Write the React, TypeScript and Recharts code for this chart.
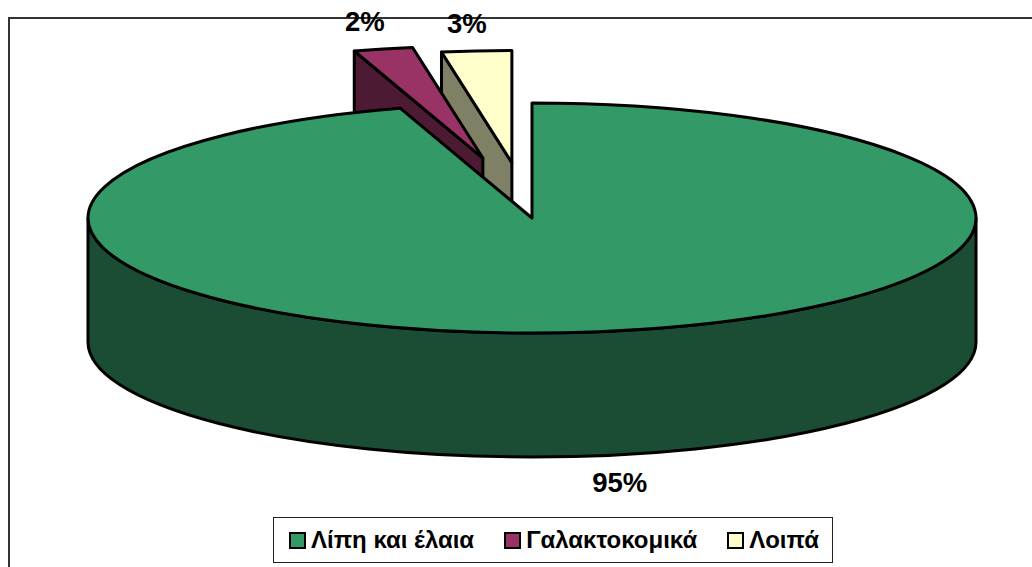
import React from 'react';
import { PieChart, Pie, Cell, Legend } from 'recharts';

const NAMES = ['Λοιπά', 'Γαλακτοκομικά', 'Λίπη και έλαια'];
const VALUES = [2.6, 2.2, 95.2];
const LEGEND_ORDER = ['Λίπη και έλαια', 'Γαλακτοκομικά', 'Λοιπά'];

const TOP_COLORS: Record<string, string> = {
  'Λίπη και έλαια': '#339966',
  'Γαλακτοκομικά': '#993366',
  'Λοιπά': '#FFFFCC',
};
const SIDE_COLORS: Record<string, string> = {
  'Λίπη και έλαια': '#1A4D33',
  'Γαλακτοκομικά': '#4D1A33',
  'Λοιπά': '#808066',
};
// small shifts so labels and pulled out slices sit where the original has them
const LABEL_NUDGE: Record<string, [number, number]> = {
  'Λίπη και έλαια': [1, 2],
  'Γαλακτοκομικά': [17, -4],
  'Λοιπά': [0, 3],
};
const SLICE_NUDGE: Record<string, [number, number]> = {
  'Λίπη και έλαια': [0, 0],
  'Γαλακτοκομικά': [2, -4],
  'Λοιπά': [-2, 2],
};

const data = NAMES.map((name, i) => ({ name, value: VALUES[i] }));

const RAD = Math.PI / 180;
const SQUASH = 115 / 444; // ellipse height / width of the tilted pie
const DEPTH = 124;
const EXPLODE = 0.5;
const EXPLODED_SCALE = 0.975;
const LINE = 3;

const isExploded = (value: number) => value < 10;

// point on the tilted rim
const rim = (cx: number, cy: number, r: number, angle: number) => ({
  x: cx + r * Math.cos(angle * RAD),
  y: cy - r * SQUASH * Math.sin(angle * RAD),
});

const Slice3D = (props: any) => {
  const { cx, cy, outerRadius, startAngle, endAngle, name, value } = props;
  const exploded = isExploded(value);
  const r = exploded ? outerRadius * EXPLODED_SCALE : outerRadius;
  const lo = Math.min(startAngle, endAngle);
  const hi = Math.max(startAngle, endAngle);
  const ry = r * SQUASH;
  const mid = rim(0, 0, outerRadius * (exploded ? EXPLODE : 0), (lo + hi) / 2);
  const ox = cx + mid.x + SLICE_NUDGE[name][0];
  const oy = cy + mid.y + SLICE_NUDGE[name][1];
  const a = rim(ox, oy, r, lo);
  const b = rim(ox, oy, r, hi);
  const large = hi - lo > 180 ? 1 : 0;
  const top = `M${ox},${oy} L${a.x},${a.y} A${r},${ry} 0 ${large} 0 ${b.x},${b.y} Z`;
  const side = SIDE_COLORS[name];

  let wall = '';
  if (exploded) {
    // the cut face on the left of a pulled out slice
    wall = `M${ox},${oy} L${b.x},${b.y} V${b.y + DEPTH} L${ox},${oy + DEPTH} Z`;
  } else {
    const l = rim(ox, oy, r, 180);
    const e = rim(ox, oy, r, 360);
    wall = `M${l.x},${l.y} A${r},${ry} 0 0 0 ${e.x},${e.y} V${e.y + DEPTH} A${r},${ry} 0 0 1 ${l.x},${l.y + DEPTH} Z`;
  }

  return (
    <g>
      <path d={wall} fill={side} stroke="#000" strokeWidth={LINE} strokeLinejoin="round" />
      <path d={top} fill={TOP_COLORS[name]} stroke="#000" strokeWidth={LINE} strokeLinejoin="round" />
    </g>
  );
};

const renderLabel = (props: any) => {
  const { cx, cy, outerRadius: r, midAngle, name, value, percent } = props;
  const exploded = isExploded(value);
  const off = rim(0, 0, r * (exploded ? EXPLODE : 0), midAngle);
  const dir = rim(0, 0, r, midAngle);
  const below = dir.y > 0 ? DEPTH : 0;
  const nudge = LABEL_NUDGE[name];
  return (
    <text
      x={cx + off.x + dir.x * 1.3 + nudge[0]}
      y={cy + off.y + dir.y * 1.22 + below + nudge[1]}
      textAnchor="middle"
      dominantBaseline="central"
      fontFamily="Liberation Sans"
      fontWeight="bold"
      fontSize={27.5}
      fill="#000"
    >
      {`${(percent * 100).toFixed(0)}%`}
    </text>
  );
};

const LegendBox = () => (
  <div
    style={{
      boxSizing: 'border-box',
      width: 560,
      height: 46,
      border: '1.5px solid #222',
      background: '#fff',
      display: 'flex',
      alignItems: 'center',
      fontFamily: 'Liberation Sans',
      fontWeight: 'bold',
      fontSize: 24,
      color: '#000',
      paddingLeft: 15,
    }}
  >
    {LEGEND_ORDER.map((name, i) => (
      <span key={name} style={{ display: 'flex', alignItems: 'center', marginLeft: i ? 30 : 0 }}>
        <span
          style={{
            boxSizing: 'border-box',
            width: 17,
            height: 17,
            border: '2.5px solid #000',
            background: TOP_COLORS[name],
            marginRight: 5,
          }}
        />
        {name}
      </span>
    ))}
  </div>
);

export default function App() {
  return (
    <div style={{ position: 'absolute', left: 0, top: 0, width: 1032, height: 567, overflow: 'hidden', background: '#fff' }}>
      <div
        style={{
          position: 'absolute',
          left: 8,
          top: 17,
          width: 1040,
          height: 600,
          border: '2px solid #333',
        }}
      />
      <div style={{ position: 'absolute', left: 0, top: 0 }}>
        <PieChart width={1032} height={567} margin={{ top: 0, right: 0, bottom: 0, left: 0 }}>
          <Pie
            data={data}
            dataKey="value"
            nameKey="name"
            cx={532}
            cy={218}
            innerRadius={0}
            outerRadius={444}
            startAngle={90}
            endAngle={450}
            stroke="none"
            shape={Slice3D}
            label={renderLabel}
            labelLine={false}
            isAnimationActive={false}
          >
            {data.map((entry) => (
              <Cell key={entry.name} fill={TOP_COLORS[entry.name]} />
            ))}
          </Pie>
          <Legend
            content={<LegendBox />}
            layout="horizontal"
            align="left"
            verticalAlign="bottom"
            wrapperStyle={{ left: 273, top: 517, bottom: 'auto', width: 560 }}
          />
        </PieChart>
      </div>
    </div>
  );
}
